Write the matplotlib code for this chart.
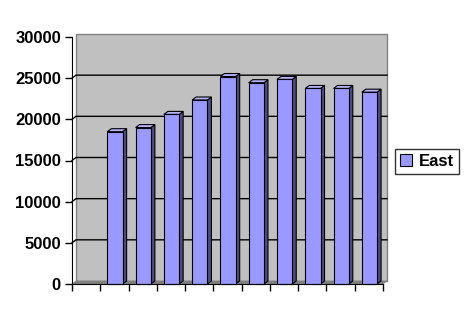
import matplotlib
matplotlib.use('Agg')
import matplotlib.pyplot as plt
from matplotlib.patches import Polygon, Rectangle
import numpy as np

# data (first category is empty)
categories = list(range(11))
east = [0, 18500, 19000, 20600, 22350, 25200, 24450, 24850, 23750, 23750, 23300]
yticks = [0, 5000, 10000, 15000, 20000, 25000, 30000]

plt.rcParams['font.family'] = ['Liberation Sans', 'DejaVu Sans']

fig = plt.figure(figsize=(4.68, 3.24), dpi=100)
W, H = 468, 324
ax = fig.add_axes([72 / W, (H - 284) / H, (383 - 72) / W, (284 - 37) / H])
ax.set_xlim(-0.5, 10.5)
ax.set_ylim(0, 30000)
ax.set_facecolor('none')

# 3D depth offset (about 4 px right, 3 px up)
dx = 4 / ((383 - 72) / 11)
dy = 3 / 247 * 30000

# back wall + floor
ax.add_patch(Rectangle((-0.5 + dx, dy), 11, 30000, facecolor='#C0C0C0',
                       edgecolor='#808080', lw=1, clip_on=False, zorder=0))
ax.add_patch(Polygon([(-0.5, 0), (10.5, 0), (10.5 + dx, dy), (-0.5 + dx, dy)],
                     closed=True, facecolor='#808080', edgecolor='#808080',
                     lw=0.5, clip_on=False, zorder=1))

# gridlines on the wall
for v in yticks[1:-1]:
    ax.plot([-0.5, -0.5 + dx, 10.5 + dx], [v, v + dy, v + dy], color='black',
            lw=1, clip_on=False, zorder=1)

# bars with side and top faces
bw = 0.54
face, side, top = '#9999FF', '#4C4C80', '#B3B3FF'
for c, v in zip(categories, east):
    if v <= 0:
        continue
    x0 = c - bw / 2 + 0.02
    x1 = x0 + bw
    ax.add_patch(Polygon([(x1, 0), (x1 + dx, dy), (x1 + dx, v + dy), (x1, v)],
                         closed=True, facecolor=side, edgecolor='black',
                         lw=0.8, clip_on=False, zorder=3))
    ax.add_patch(Polygon([(x0, v), (x1, v), (x1 + dx, v + dy), (x0 + dx, v + dy)],
                         closed=True, facecolor=top, edgecolor='black',
                         lw=0.8, clip_on=False, zorder=3))
    ax.add_patch(Rectangle((x0, 0), bw, v, facecolor=face, edgecolor='black',
                           lw=0.8, clip_on=False, zorder=4))

for s in ['top', 'right']:
    ax.spines[s].set_visible(False)
ax.spines['left'].set_color('black')
ax.spines['bottom'].set_color('black')
ax.spines['left'].set_zorder(5)
ax.spines['bottom'].set_zorder(5)

ax.set_yticks(yticks)
ax.set_yticklabels([str(t) for t in yticks], fontsize=12, fontweight='bold')
ax.set_xticks(np.arange(-0.5, 11, 1))
ax.set_xticklabels([])
ax.tick_params(axis='both', direction='out', length=5, width=1, color='black')
ax.tick_params(axis='y', pad=3)

# legend
handle = Rectangle((0, 0), 1, 1, facecolor=face, edgecolor='black', lw=0.8)
leg = fig.legend([handle], ['East'], loc='center', bbox_to_anchor=(427 / W, 1 - 161.5 / H),
                 frameon=True, fancybox=False, shadow=False, handlelength=0.75,
                 handleheight=0.75, handletextpad=0.4, borderpad=0.3,
                 prop={'weight': 'bold', 'size': 12})
leg.get_frame().set_edgecolor('black')
leg.get_frame().set_linewidth(1)

fig.savefig('out.png', dpi=100)
